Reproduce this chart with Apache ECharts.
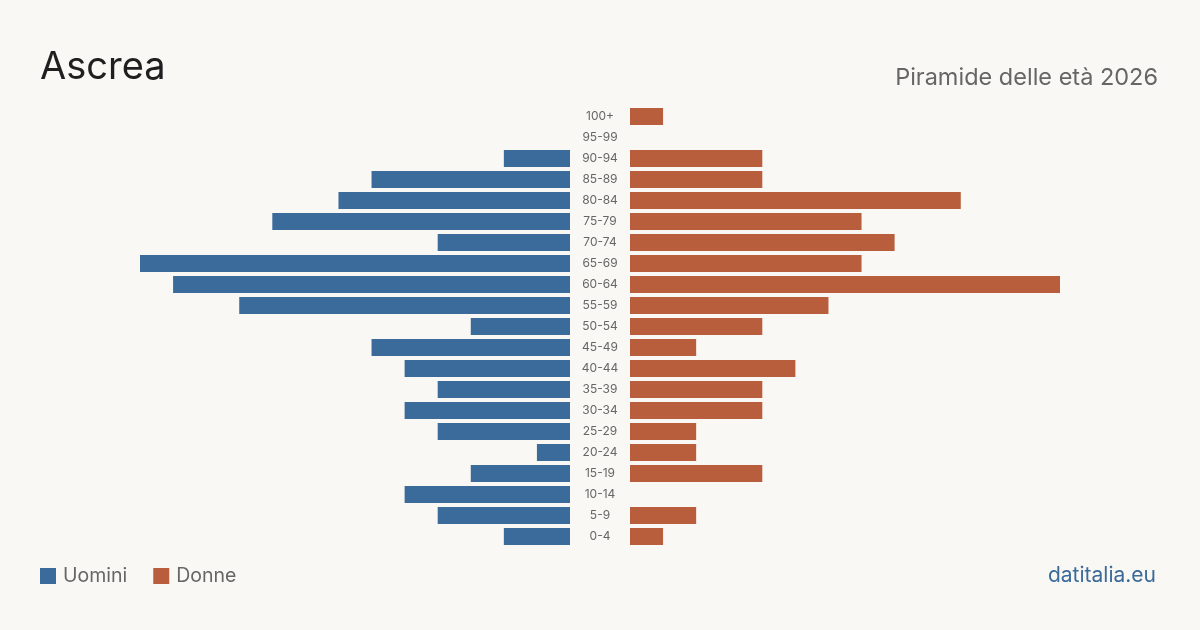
<!DOCTYPE html>
<html>
<head>
<meta charset="utf-8">
<script src="https://cdn.jsdelivr.net/npm/echarts@6/dist/echarts.min.js"></script>
<style>
html, body { margin: 0; padding: 0; background: #f9f8f4; }
#chart { width: 1200px; height: 630px; }
</style>
</head>
<body>
<div id="chart"></div>
<script>
// classi di età, dal basso verso l'alto
var ages = ['0-4', '5-9', '10-14', '15-19', '20-24', '25-29', '30-34', '35-39', '40-44', '45-49',
    '50-54', '55-59', '60-64', '65-69', '70-74', '75-79', '80-84', '85-89', '90-94', '95-99', '100+'];
var uomini = [2, 4, 5, 3, 1, 4, 5, 4, 5, 6, 3, 10, 12, 13, 4, 9, 7, 6, 2, 0, 0];
var donne = [1, 2, 0, 4, 2, 2, 4, 4, 5, 2, 4, 6, 13, 7, 8, 7, 10, 4, 4, 0, 1];

var blu = '#3b6b9b';
var rosso = '#b95e3c';
var maxVal = 13;

var myChart = echarts.init(document.getElementById('chart'));
var option = {
    backgroundColor: '#f9f8f4',
    textStyle: { fontFamily: 'Inter' },
    animation: false,
    legend: {
        left: 40,
        top: 566,
        padding: 0,
        itemWidth: 16,
        itemHeight: 16,
        itemGap: 26,
        icon: 'rect',
        textStyle: { fontSize: 19.5, color: '#666', fontFamily: 'Inter', padding: [0, 0, 0, 2] },
        data: ['Uomini', 'Donne']
    },
    grid: [
        { left: 140, width: 430, top: 106, height: 441 },
        { left: 630, width: 430, top: 106, height: 441 }
    ],
    xAxis: [
        { gridIndex: 0, type: 'value', min: 0, max: maxVal, inverse: true, show: false },
        { gridIndex: 1, type: 'value', min: 0, max: maxVal, show: false }
    ],
    yAxis: [
        { gridIndex: 0, type: 'category', data: ages, show: false },
        {
            gridIndex: 1, type: 'category', data: ages,
            axisLine: { show: false },
            axisTick: { show: false },
            axisLabel: { margin: 30, align: 'center', fontSize: 12, color: '#666', fontFamily: 'Inter', padding: [2, 0, 0, 0] }
        }
    ],
    series: [
        { name: 'Uomini', type: 'bar', xAxisIndex: 0, yAxisIndex: 0, data: uomini, barWidth: 17, itemStyle: { color: blu } },
        { name: 'Donne', type: 'bar', xAxisIndex: 1, yAxisIndex: 1, data: donne, barWidth: 17, itemStyle: { color: rosso } }
    ],
    graphic: [
        { type: 'text', left: 40, top: 49, style: { text: 'Ascrea', fontSize: 38, fill: '#1f1f1f', fontFamily: 'Inter' } },
        { type: 'text', right: 42, top: 66, style: { text: 'Piramide delle età 2026', fontSize: 23.5, fill: '#666', fontFamily: 'Inter' } },
        { type: 'text', right: 44, top: 565, style: { text: 'datitalia.eu', fontSize: 21, fill: blu, fontFamily: 'Inter' } }
    ]
};
myChart.setOption(option);
</script>
</body>
</html>
